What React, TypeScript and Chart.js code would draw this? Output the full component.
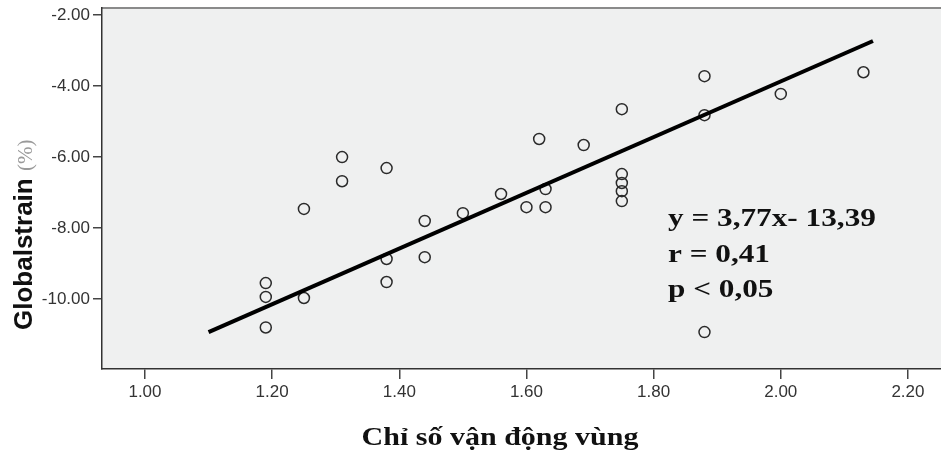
import React, { useEffect, useRef } from "react";
import { Chart, registerables } from "chart.js";

Chart.register(...registerables);

// Scatter data: Chỉ số vận động vùng (x) vs Globalstrain (%) (y)
const xValues = [1.19, 1.19, 1.19, 1.25, 1.25, 1.31, 1.31, 1.38, 1.38, 1.38, 1.44, 1.44, 1.5, 1.56, 1.6, 1.62, 1.63, 1.63, 1.69, 1.75, 1.75, 1.75, 1.75, 1.75, 1.88, 1.88, 1.88, 2.0, 2.13];
const yValues = [-9.55, -9.94, -10.8, -7.46, -9.97, -6.0, -6.68, -6.31, -8.87, -9.52, -7.8, -8.82, -7.58, -7.04, -7.41, -5.49, -7.41, -6.9, -5.66, -4.65, -6.48, -6.73, -6.96, -7.24, -3.72, -4.82, -10.93, -4.22, -3.61];

// Fit line as drawn
const fitX = [1.1, 2.145];
const fitY = [-10.93, -2.73];

const xTicks = [1.0, 1.2, 1.4, 1.6, 1.8, 2.0, 2.2];
const yTicks = [-10, -8, -6, -4, -2];

const xTitle = "Chỉ số vận động vùng";
const yTitleMain = "Globalstrain";
const yTitleUnit = "(%)";
const annotationLines = ["y = 3,77x- 13,39", "r = 0,41", "p < 0,05"];

const decorPlugin = {
  id: "decor",
  beforeDraw(chart: any) {
    const { ctx, chartArea } = chart;
    const { left, top, right, bottom } = chartArea;
    ctx.save();
    ctx.fillStyle = "#eff0f0";
    ctx.fillRect(left, top, right - left, bottom - top);
    ctx.strokeStyle = "#8a8a8a";
    ctx.lineWidth = 2;
    ctx.beginPath();
    ctx.moveTo(left, top);
    ctx.lineTo(right, top);
    ctx.stroke();
    ctx.restore();
  },
  afterDraw(chart: any) {
    const { ctx } = chart;
    // Y title
    ctx.save();
    ctx.translate(32, 330);
    ctx.rotate(-Math.PI / 2);
    ctx.textAlign = "left";
    ctx.textBaseline = "alphabetic";
    ctx.font = "bold 26px 'Liberation Sans', Arial, sans-serif";
    ctx.fillStyle = "#111";
    ctx.fillText(yTitleMain, 0, 0);
    const w = ctx.measureText(yTitleMain + " ").width;
    ctx.font = "21px 'Liberation Serif', 'Times New Roman', serif";
    ctx.fillStyle = "#9a9a9a";
    ctx.fillText(yTitleUnit, w, 0);
    ctx.restore();

    // X title
    ctx.save();
    ctx.translate(500, 445);
    ctx.scale(1.2, 1);
    ctx.textAlign = "center";
    ctx.textBaseline = "alphabetic";
    ctx.font = "bold 25px 'Liberation Serif', 'Times New Roman', serif";
    ctx.fillStyle = "#111";
    ctx.fillText(xTitle, 0, 0);
    ctx.restore();

    // Annotation
    const baselines = [226, 262, 297];
    annotationLines.forEach((t, i) => {
      ctx.save();
      ctx.translate(668, baselines[i]);
      ctx.scale(1.25, 1);
      ctx.textAlign = "left";
      ctx.textBaseline = "alphabetic";
      ctx.font = "bold 25px 'Liberation Serif', 'Times New Roman', serif";
      ctx.fillStyle = "#111";
      ctx.fillText(t, 0, 0);
      ctx.restore();
    });
  },
};

export default function App() {
  const ref = useRef<HTMLCanvasElement | null>(null);
  useEffect(() => {
    if (!ref.current) return;
    const points = xValues.map((x, i) => ({ x, y: yValues[i] }));
    const line = fitX.map((x, i) => ({ x, y: fitY[i] }));
    const chart = new Chart(ref.current, {
      type: "scatter",
      data: {
        datasets: [
          {
            data: line,
            showLine: true,
            borderColor: "#000",
            borderWidth: 4,
            pointRadius: 0,
            fill: false,
          } as any,
          {
            data: points,
            pointRadius: 5.5,
            pointBorderWidth: 1.5,
            pointBorderColor: "#2a2a2a",
            pointBackgroundColor: "rgba(0,0,0,0)",
            showLine: false,
          } as any,
        ],
      },
      options: {
        responsive: false,
        animation: false,
        devicePixelRatio: 1,
        layout: { autoPadding: false, padding: { top: 8, right: 0, left: 0, bottom: 0 } },
        plugins: { legend: { display: false }, tooltip: { enabled: false } },
        scales: {
          x: {
            type: "linear",
            min: 0.9324,
            max: 2.252,
            afterBuildTicks: (s: any) => {
              s.ticks = xTicks.map((v) => ({ value: v }));
            },
            afterFit: (s: any) => {
              s.height = 85;
              s.paddingRight = 0;
              s.paddingLeft = 0;
            },
            ticks: {
              callback: (v: any) => Number(v).toFixed(2),
              font: { family: "'Liberation Sans', Arial, sans-serif", size: 17 },
              color: "#333",
              padding: 3,
              maxRotation: 0,
            },
            grid: { drawOnChartArea: false, drawTicks: true, tickLength: 10, color: "#444", lineWidth: 1.5 },
            border: { display: true, color: "#333", width: 1.5 },
          },
          y: {
            type: "linear",
            min: -11.97,
            max: -1.8,
            afterBuildTicks: (s: any) => {
              s.ticks = yTicks.map((v) => ({ value: v }));
            },
            afterFit: (s: any) => {
              s.width = 102;
              s.paddingTop = 0;
              s.paddingBottom = 0;
            },
            ticks: {
              callback: (v: any) => Number(v).toFixed(2),
              font: { family: "'Liberation Sans', Arial, sans-serif", size: 17 },
              color: "#333",
              padding: 3,
            },
            grid: { drawOnChartArea: false, drawTicks: true, tickLength: 9, color: "#444", lineWidth: 1.5 },
            border: { display: true, color: "#333", width: 1.5 },
          },
        },
      },
      plugins: [decorPlugin],
    });
    return () => chart.destroy();
  }, []);
  return (
    <div style={{ position: "fixed", left: 0, top: 0, width: 941, height: 454, background: "#fff" }}>
      <canvas ref={ref} width={941} height={454} style={{ width: 941, height: 454, display: "block" }} />
    </div>
  );
}
